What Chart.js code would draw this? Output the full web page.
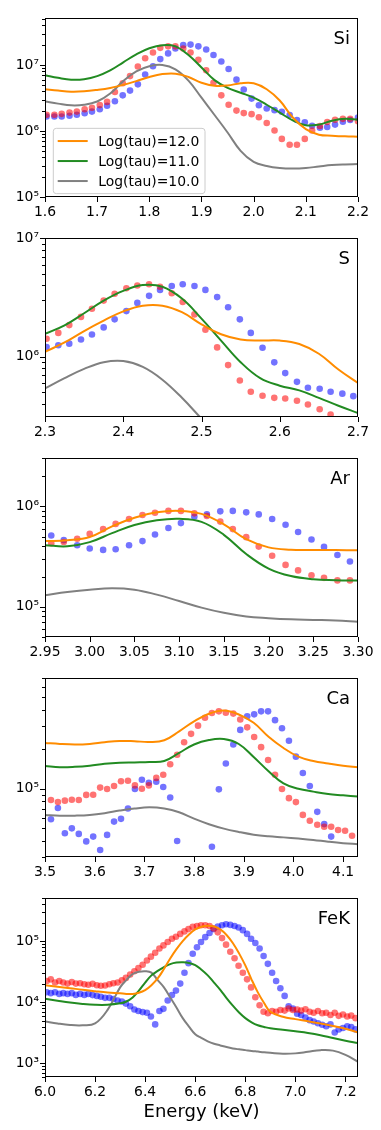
<!DOCTYPE html>
<html>
<head>
<meta charset="utf-8">
<script src="https://cdn.jsdelivr.net/npm/chart.js@4.4.0/dist/chart.umd.min.js"></script>
<style>
  html, body { margin: 0; padding: 0; background: #fff; }
  body { width: 381px; height: 1130px; position: relative; overflow: hidden; }
  .panel { position: absolute; left: 0; width: 381px; }
</style>
</head>
<body>
<div class="panel" style="top:4px"><canvas id="si" width="381" height="227"></canvas></div>
<div class="panel" style="top:224px"><canvas id="s" width="381" height="227"></canvas></div>
<div class="panel" style="top:444px"><canvas id="ar" width="381" height="227"></canvas></div>
<div class="panel" style="top:664px"><canvas id="ca" width="381" height="227"></canvas></div>
<div class="panel" style="top:884px"><canvas id="fe" width="381" height="239"></canvas></div>
<script>
// ---- Si ----
const siBins = [1.603, 1.618, 1.632, 1.647, 1.661, 1.676, 1.690, 1.705, 1.719, 1.734, 1.749, 1.763, 1.778, 1.792,
  1.807, 1.821, 1.836, 1.850, 1.865, 1.879, 1.894, 1.909, 1.923, 1.938, 1.952, 1.967, 1.981, 1.996, 2.010, 2.025,
  2.040, 2.054, 2.069, 2.083, 2.098, 2.112, 2.127, 2.141, 2.156, 2.171, 2.185, 2.200];
const siRed = [1.76e6, 1.76e6, 1.82e6, 1.9e6, 1.97e6, 2.14e6, 2.25e6, 2.47e6, 2.76e6, 3.9e6, 5.3e6, 6.8e6, 9.5e6, 1.27e7,
  1.55e7, 1.82e7, 1.92e7, 1.92e7, 1.78e7, 1.55e7, 1.2e7, 8.35e6, 5.4e6, 3.47e6, 2.5e6, 2.04e6, 1.87e6, 1.8e6, 1.62e6, 1.32e6,
  1.02e6, 7.6e5, 6.2e5, 6.2e5, 7.6e5, 1.02e6, 1.19e6, 1.37e6, 1.48e6, 1.53e6, 1.53e6, 1.4e6];
const siBlue = [1.66e6, 1.66e6, 1.66e6, 1.7e6, 1.76e6, 1.86e6, 1.97e6, 2.14e6, 2.41e6, 2.83e6, 3.47e6, 4.1e6, 5.1e6, 7.2e6,
  9.6e6, 1.23e7, 1.5e7, 1.78e7, 2.0e7, 2.04e7, 1.92e7, 1.72e7, 1.42e7, 1.13e7, 8.7e6, 6.0e6, 4.25e6, 3.1e6, 2.46e6, 2.19e6,
  2.07e6, 1.96e6, 1.75e6, 1.47e6, 1.36e6, 1.2e6, 1.12e6, 1.15e6, 1.25e6, 1.38e6, 1.47e6, 1.6e6];
const siLineX = [1.6, 1.625, 1.65, 1.675, 1.7, 1.725, 1.75, 1.775, 1.8, 1.825, 1.85, 1.875, 1.9, 1.925, 1.95, 1.975,
  2.0, 2.025, 2.05, 2.075, 2.1, 2.125, 2.15, 2.175, 2.2];
const siOrange = [4.3e6, 4.1e6, 3.95e6, 4.0e6, 4.2e6, 4.5e6, 5.0e6, 5.7e6, 6.6e6, 7.3e6, 7.4e6, 6.6e6, 5.4e6, 4.85e6,
  4.9e6, 5.3e6, 5.3e6, 4.3e6, 2.9e6, 1.6e6, 1.07e6, 8.8e5, 8.5e5, 8.3e5, 8.2e5];
const siGreen = [7.0e6, 6.4e6, 6.0e6, 6.1e6, 6.8e6, 8.3e6, 1.1e7, 1.45e7, 1.8e7, 2.0e7, 1.92e7, 1.42e7, 9.2e6, 5.9e6,
  4.5e6, 3.8e6, 3.2e6, 2.5e6, 1.9e6, 1.45e6, 1.22e6, 1.25e6, 1.43e6, 1.53e6, 1.48e6];
const siGray = [2.8e6, 2.6e6, 2.45e6, 2.5e6, 2.8e6, 3.7e6, 5.7e6, 8.0e6, 9.6e6, 1.0e7, 8.6e6, 5.8e6, 3.2e6, 1.75e6,
  9.5e5, 5.0e5, 3.4e5, 2.95e5, 2.75e5, 2.7e5, 2.75e5, 2.9e5, 3.05e5, 3.12e5, 3.15e5];
const siTicks = [1.6, 1.7, 1.8, 1.9, 2.0, 2.1, 2.2];
const siYTicks = [1e5, 1e6, 1e7];

// ---- S ----
const sBins = [2.302, 2.317, 2.331, 2.346, 2.360, 2.375, 2.389, 2.404, 2.418, 2.433, 2.447, 2.462, 2.476, 2.491,
  2.505, 2.520, 2.534, 2.549, 2.563, 2.578, 2.593, 2.607, 2.622, 2.636, 2.651, 2.665, 2.680, 2.694];
const sRed = [1.42e6, 1.59e6, 1.85e6, 2.17e6, 2.54e6, 2.98e6, 3.4e6, 3.79e6, 4.0e6, 4.09e6, 3.9e6, 3.44e6, 2.9e6, 2.28e6,
  1.69e6, 1.2e6, 8.5e5, 6.3e5, 5.07e5, 4.68e5, 4.5e5, 4.44e5, 4.25e5, 3.95e5, 3.6e5, 3.25e5, 2.9e5, 2.6e5];
const sBlue = [1.21e6, 1.25e6, 1.29e6, 1.4e6, 1.54e6, 1.77e6, 2.07e6, 2.43e6, 2.85e6, 3.27e6, 3.67e6, 3.96e6, 4.09e6, 3.96e6,
  3.67e6, 3.19e6, 2.62e6, 2.07e6, 1.59e6, 1.19e6, 8.97e5, 7.28e5, 6.14e5, 5.47e5, 5.37e5, 5.07e5, 4.88e5, 4.65e5];
const sLineX = [2.3, 2.325, 2.35, 2.375, 2.4, 2.425, 2.45, 2.475, 2.5, 2.525, 2.55, 2.575, 2.6, 2.625, 2.65, 2.675, 2.7];
const sOrange = [1.1e6, 1.32e6, 1.65e6, 2.02e6, 2.42e6, 2.7e6, 2.7e6, 2.38e6, 1.88e6, 1.55e6, 1.4e6, 1.37e6, 1.37e6,
  1.28e6, 1.06e6, 7.8e5, 6.0e5];
const sGreen = [1.56e6, 1.84e6, 2.33e6, 2.98e6, 3.6e6, 4.03e6, 3.9e6, 3.1e6, 2.1e6, 1.37e6, 9.0e5, 6.6e5, 5.7e5,
  5.2e5, 4.5e5, 3.86e5, 3.35e5];
const sGray = [5.4e5, 6.6e5, 7.9e5, 9.0e5, 9.2e5, 8.2e5, 6.4e5, 4.5e5, 3.0e5, 2.0e5, null, null, null, null, null, null, null];
const sTicks = [2.3, 2.4, 2.5, 2.6, 2.7];
const sYTicks = [1e6, 1e7];

// ---- Ar ----
const arBins = [2.957, 2.971, 2.986, 3.000, 3.015, 3.029, 3.044, 3.059, 3.073, 3.088, 3.102, 3.117, 3.131, 3.146,
  3.160, 3.175, 3.189, 3.204, 3.219, 3.233, 3.248, 3.262, 3.277, 3.291];
const arRed = [4.28e5, 4.41e5, 4.75e5, 5.31e5, 5.93e5, 6.68e5, 7.48e5, 8.18e5, 8.62e5, 9.0e5, 9.0e5, 8.5e5, 8.0e5, 7.04e5,
  5.93e5, 4.93e5, 3.97e5, 3.22e5, 2.61e5, 2.3e5, 2.06e5, 1.94e5, 1.83e5, 1.83e5];
const arBlue = [5.12e5, 4.6e5, 4.09e5, 3.8e5, 3.68e5, 3.74e5, 4.09e5, 4.5e5, 5.23e5, 6.07e5, 6.8e5, 7.88e5, 8.3e5, 8.9e5,
  9.0e5, 8.7e5, 8.3e5, 7.48e5, 6.55e5, 5.55e5, 4.67e5, 3.94e5, 3.27e5, 2.82e5];
const arLineX = [2.95, 2.975, 3.0, 3.025, 3.05, 3.075, 3.1, 3.125, 3.15, 3.175, 3.2, 3.225, 3.25, 3.275, 3.3];
const arOrange = [4.5e5, 4.6e5, 4.95e5, 6.3e5, 7.7e5, 8.7e5, 9.0e5, 8.4e5, 6.6e5, 4.7e5, 3.9e5, 3.7e5, 3.68e5, 3.67e5, 3.65e5];
const arGreen = [4.1e5, 4.0e5, 4.4e5, 5.4e5, 6.5e5, 7.25e5, 7.5e5, 7.0e5, 5.2e5, 3.35e5, 2.4e5, 2.02e5, 1.88e5, 1.84e5, 1.82e5];
const arGray = [1.3e5, 1.4e5, 1.48e5, 1.53e5, 1.48e5, 1.32e5, 1.14e5, 9.8e4, 8.7e4, 8.0e4, 7.7e4, 7.5e4, 7.4e4, 7.3e4, 7.1e4];
const arTicks = [2.95, 3.0, 3.05, 3.1, 3.15, 3.2, 3.25, 3.3];
const arYTicks = [1e5, 1e6];

// ---- Ca ----
const caBins = [3.512, 3.526, 3.540, 3.554, 3.568, 3.583, 3.597, 3.611, 3.625, 3.639, 3.653, 3.667, 3.681, 3.695,
  3.709, 3.724, 3.738, 3.752, 3.766, 3.780, 3.794, 3.808, 3.822, 3.836, 3.850, 3.864, 3.879, 3.893, 3.907, 3.921,
  3.935, 3.949, 3.963, 3.977, 3.991, 4.005, 4.019, 4.033, 4.048, 4.062, 4.076, 4.090, 4.104, 4.118];
const caRed = [8.2e4, 7.9e4, 8.1e4, 8.23e4, 8.2e4, 8.97e4, 9.0e4, 1.02e5, 9.95e4, 1.05e5, 1.14e5, 1.15e5, 1.06e5, 1.0e5,
  1.06e5, 1.21e5, 1.28e5, 1.54e5, 1.82e5, 2.27e5, 2.63e5, 3.04e5, 3.49e5, 3.8e5, 3.91e5, 3.82e5, 3.76e5, 3.39e5, 2.95e5, 2.49e5,
  2.08e5, 1.66e5, 1.28e5, 9.95e4, 8.47e4, 7.9e4, 6.3e4, 5.68e4, 5.3e4, 5.12e4, 5.12e4, 4.83e4, 4.77e4, 4.36e4];
const caBlue = [5.84e4, 7.12e4, 4.56e4, 4.97e4, 4.51e4, 3.95e4, 4.3e4, 3.39e4, 4.43e4, 5.6e4, 5.88e4, 7.05e4, 9.95e4, 1.17e5,
  1.11e5, 1.13e5, 1.03e5, 8.57e4, 3.98e4, null, null, null, null, 3.59e4, 9.89e4, 1.56e5, 2.18e5, 2.82e5, 3.59e5, 3.71e5,
  3.91e5, 3.91e5, 3.35e5, 2.9e5, 2.33e5, 1.76e5, 1.32e5, 1.05e5, 6.65e4, 5.36e4, 4.3e4, null, null, null];
const caLineX = [3.5, 3.53, 3.56, 3.59, 3.62, 3.65, 3.68, 3.71, 3.74, 3.77, 3.8, 3.83, 3.86, 3.89, 3.92, 3.95,
  3.98, 4.01, 4.04, 4.07, 4.1, 4.13];
const caOrange = [2.24e5, 2.2e5, 2.18e5, 2.2e5, 2.27e5, 2.32e5, 2.31e5, 2.28e5, 2.35e5, 2.75e5, 3.28e5, 3.75e5, 3.97e5,
  3.7e5, 3.2e5, 2.5e5, 2.05e5, 1.76e5, 1.63e5, 1.56e5, 1.5e5, 1.46e5];
const caGreen = [1.49e5, 1.46e5, 1.47e5, 1.5e5, 1.55e5, 1.58e5, 1.59e5, 1.6e5, 1.63e5, 1.88e5, 2.18e5, 2.36e5, 2.4e5,
  2.2e5, 1.75e5, 1.36e5, 1.1e5, 1.0e5, 9.5e4, 9.1e4, 8.9e4, 8.7e4];
const caGray = [6.3e4, 6.2e4, 6.22e4, 6.3e4, 6.5e4, 6.8e4, 7.05e4, 7.2e4, 7.05e4, 6.6e4, 5.9e4, 5.35e4, 4.95e4,
  4.67e4, 4.45e4, 4.32e4, 4.24e4, 4.15e4, 4.05e4, 3.93e4, 3.83e4, 3.76e4];
const caTicks = [3.5, 3.6, 3.7, 3.8, 3.9, 4.0, 4.1];
const caYTicks = [1e5];

// ---- FeK ----
const feBins = [6.007, 6.023, 6.040, 6.057, 6.073, 6.090, 6.107, 6.123, 6.140, 6.157, 6.173, 6.190, 6.207, 6.223, 6.240,
  6.257, 6.273, 6.290, 6.307, 6.323, 6.340, 6.357, 6.373, 6.390, 6.407, 6.423, 6.440, 6.457, 6.473, 6.490, 6.507, 6.523,
  6.540, 6.557, 6.573, 6.590, 6.607, 6.623, 6.640, 6.657, 6.673, 6.690, 6.707, 6.723, 6.740, 6.757, 6.773, 6.790, 6.807,
  6.823, 6.840, 6.857, 6.873, 6.890, 6.907, 6.923, 6.940, 6.957, 6.973, 6.990, 7.007, 7.023, 7.040, 7.057, 7.073, 7.090,
  7.107, 7.123, 7.140, 7.157, 7.173, 7.190, 7.207, 7.223, 7.240];
const feRed = [2.23e4, 2.37e4, 2.1e4, 2.23e4, 2.1e4, 2.02e4, 2.15e4, 2.02e4, 2.05e4, 1.97e4,
  1.93e4, 2.0e4, 1.9e4, 1.86e4, 1.88e4, 1.97e4, 2.05e4, 2.1e4, 2.28e4, 2.5e4,
  2.85e4, 3.22e4, 3.63e4, 4.1e4, 4.82e4, 5.57e4, 6.46e4, 7.55e4, 8.5e4, 9.64e4,
  1.09e5, 1.18e5, 1.31e5, 1.44e5, 1.57e5, 1.71e5, 1.77e5, 1.82e5, 1.82e5, 1.77e5,
  1.61e5, 1.39e5, 1.12e5, 8.74e4, 6.68e4, 5.24e4, 3.96e4, 3.03e4, 2.37e4, 1.75e4,
  1.21e4, 8.96e3, 7.0e3, 6.6e3, 7.2e3, 7.0e3, 7.46e3, 7.3e3, 7.9e3, 7.46e3,
  7.6e3, 7.3e3, 7.7e3, 7.0e3, 6.75e3, 7.2e3, 6.6e3, 6.75e3, 6.2e3, 6.75e3,
  6.0e3, 6.3e3, 5.85e3, 6.05e3, 5.5e3];
const feBlue = [1.46e4, 1.41e4, 1.46e4, 1.37e4, 1.41e4, 1.37e4, 1.41e4, 1.32e4, 1.37e4, 1.32e4,
  1.37e4, 1.31e4, 1.27e4, 1.23e4, 1.18e4, 1.18e4, 1.13e4, 1.07e4, 1.03e4, 9.5e3,
  8.6e3, 7.6e3, 7.2e3, 6.9e3, 6.75e3, 5.85e3, 4.35e3, 7.2e3, 7.8e3, 1.07e4,
  1.31e4, 1.55e4, 2.02e4, 3.03e4, 4.36e4, 6.2e4, 7.95e4, 9.64e4, 1.16e5, 1.36e5,
  1.57e5, 1.73e5, 1.82e5, 1.88e5, 1.84e5, 1.77e5, 1.67e5, 1.51e5, 1.31e5, 1.09e5,
  9.3e4, 7.55e4, 5.7e4, 4.25e4, 3.03e4, 2.23e4, 1.69e4, 1.27e4, 8.6e3, 7.9e3,
  6.5e3, 6.2e3, 5.6e3, 5.1e3, 4.85e3, 4.55e3, 4.3e3, 4.05e3, 4.35e3, 3.2e3,
  3.6e3, 3.8e3, 4.05e3, 3.95e3, 3.6e3];
const feLineX = [6.0, 6.05, 6.1, 6.15, 6.2, 6.25, 6.3, 6.325, 6.35, 6.375, 6.4, 6.425, 6.45, 6.475, 6.5, 6.525, 6.55,
  6.575, 6.6, 6.625, 6.65, 6.675, 6.7, 6.725, 6.75, 6.775, 6.8, 6.825, 6.85, 6.875, 6.9, 6.95, 7.0, 7.05, 7.1, 7.15, 7.2, 7.25];
const feOrange = [1.9e4, 1.8e4, 1.7e4, 1.6e4, 1.52e4, 1.45e4, 1.4e4, 1.37e4, 1.37e4, 1.43e4, 1.58e4, 1.9e4, 2.45e4,
  3.5e4, 5.2e4, 7.4e4, 1.0e5, 1.28e5, 1.55e5, 1.72e5, 1.78e5, 1.73e5, 1.55e5, 1.26e5, 9.3e4, 6.3e4, 4.0e4, 2.35e4,
  1.45e4, 9.7e3, 7.0e3, 5.8e3, 5.3e3, 4.9e3, 4.5e3, 4.1e3, 3.7e3, 3.2e3];
const feGreen = [1.14e4, 1.06e4, 9.9e3, 9.4e3, 9.1e3, 9.1e3, 9.6e3, 1.03e4, 1.2e4, 1.55e4, 2.1e4, 2.75e4, 3.25e4,
  3.75e4, 4.2e4, 4.45e4, 4.5e4, 4.4e4, 4.05e4, 3.4e4, 2.75e4, 2.1e4, 1.6e4, 1.17e4, 8.8e3, 6.8e3, 5.5e3, 4.7e3,
  4.2e3, 3.95e3, 3.75e3, 3.55e3, 3.35e3, 3.15e3, 2.9e3, 2.6e3, 2.35e3, 2.15e3];
const feGray = [4.86e3, 4.5e3, 4.25e3, 4.2e3, 4.5e3, 7.5e3, 1.75e4, 2.3e4, 2.9e4, 3.15e4, 3.22e4, 3.05e4, 2.3e4,
  1.75e4, 1.2e4, 8.2e3, 5.5e3, 4.0e3, 3.0e3, 2.6e3, 2.3e3, 2.1e3, 1.97e3, 1.85e3, 1.76e3, 1.7e3, 1.65e3, 1.6e3,
  1.56e3, 1.52e3, 1.49e3, 1.44e3, 1.46e3, 1.55e3, 1.65e3, 1.62e3, 1.38e3, 1.06e3];
const feTicks = [6.0, 6.2, 6.4, 6.6, 6.8, 7.0, 7.2];
const feYTicks = [1e3, 1e4, 1e5];

const modelLabels = ['Log(tau)=12.0', 'Log(tau)=11.0', 'Log(tau)=10.0'];
const modelColors = ['#ff8c00', '#228b22', '#808080'];
const redDot = 'rgba(255, 0, 0, 0.55)';
const blueDot = 'rgba(0, 0, 255, 0.55)';

Chart.defaults.font.family = "'DejaVu Sans', sans-serif";
Chart.defaults.font.size = 13.9;
Chart.defaults.color = '#000';

const supDigits = { '0': '\u2070', '1': '\u00b9', '2': '\u00b2', '3': '\u00b3', '4': '\u2074',
  '5': '\u2075', '6': '\u2076', '7': '\u2077', '8': '\u2078', '9': '\u2079' };
function powLabel(v) {
  const e = Math.round(Math.log10(v));
  return '10' + String(e).split('').map(c => supDigits[c]).join('');
}

function toPoints(xs, ys) {
  return xs.map((x, i) => ({ x: x, y: ys[i] }));
}

// frame, minor ticks, panel name and legend
const framePlugin = {
  id: 'frame',
  afterDatasetsDraw(chart, args, opts) {
    const { ctx, chartArea: a, scales } = chart;
    const L = Math.round(a.left), R = Math.round(a.right), T = Math.round(a.top), B = Math.round(a.bottom);
    ctx.save();
    ctx.strokeStyle = '#000';
    ctx.lineWidth = 1;
    ctx.strokeRect(L + 0.5, T + 0.5, R - L - 1, B - T - 1);

    // y ticks (log, with minors)
    const y = scales.y;
    ctx.beginPath();
    for (let d = Math.floor(Math.log10(y.min)); d <= Math.ceil(Math.log10(y.max)); d++) {
      for (let m = 1; m <= 9; m++) {
        const v = m * Math.pow(10, d);
        if (v < y.min * 0.9999 || v > y.max * 1.0001) continue;
        const py = Math.round(y.getPixelForValue(v)) + 0.5;
        const len = m === 1 ? 5 : 3;
        ctx.moveTo(L - len, py);
        ctx.lineTo(L + 0.5, py);
      }
    }
    // x ticks
    scales.x.ticks.forEach(t => {
      const px = Math.round(scales.x.getPixelForValue(t.value)) + 0.5;
      ctx.moveTo(px, B);
      ctx.lineTo(px, B + 5);
    });
    ctx.stroke();

    // panel name
    ctx.fillStyle = '#000';
    ctx.font = "18px 'DejaVu Sans', sans-serif";
    ctx.textAlign = 'right';
    ctx.textBaseline = 'alphabetic';
    ctx.fillText(opts.name, a.right - 8, a.top + 26);

    if (opts.legend) {
      const lx = a.left + 8.3, ly = a.top + 110, lw = 151.7, lh = 65.3, r = 3;
      ctx.beginPath();
      ctx.moveTo(lx + r, ly);
      ctx.arcTo(lx + lw, ly, lx + lw, ly + lh, r);
      ctx.arcTo(lx + lw, ly + lh, lx, ly + lh, r);
      ctx.arcTo(lx, ly + lh, lx, ly, r);
      ctx.arcTo(lx, ly, lx + lw, ly, r);
      ctx.closePath();
      ctx.fillStyle = 'rgba(255,255,255,0.8)';
      ctx.fill();
      ctx.strokeStyle = '#cccccc';
      ctx.lineWidth = 1;
      ctx.stroke();
      ctx.font = "13.9px 'DejaVu Sans', sans-serif";
      ctx.textAlign = 'left';
      ctx.textBaseline = 'middle';
      modelLabels.forEach((lab, i) => {
        const ry = ly + 12.7 + 20 * i;
        ctx.beginPath();
        ctx.strokeStyle = modelColors[i];
        ctx.lineWidth = 2;
        ctx.moveTo(lx + 4.4, ry);
        ctx.lineTo(lx + 34.4, ry);
        ctx.stroke();
        ctx.fillStyle = '#000';
        ctx.fillText(lab, lx + 45, ry + 1);
      });
    }
    ctx.restore();
  }
};

const panels = [
  { id: 'si', name: 'Si', xMin: 1.6, xMax: 2.2, dec: 1, yMin: 1e5, yMax: 5.1e7, xTicks: siTicks, yTicks: siYTicks,
    bins: siBins, red: siRed, blue: siBlue, lineX: siLineX, lines: [siOrange, siGreen, siGray], legend: true },
  { id: 's', name: 'S', xMin: 2.3, xMax: 2.7, dec: 1, yMin: 3.1e5, yMax: 1e7, xTicks: sTicks, yTicks: sYTicks,
    bins: sBins, red: sRed, blue: sBlue, lineX: sLineX, lines: [sOrange, sGreen, sGray] },
  { id: 'ar', name: 'Ar', xMin: 2.95, xMax: 3.3, dec: 2, yMin: 5e4, yMax: 3e6, xTicks: arTicks, yTicks: arYTicks,
    bins: arBins, red: arRed, blue: arBlue, lineX: arLineX, lines: [arOrange, arGreen, arGray] },
  { id: 'ca', name: 'Ca', xMin: 3.5, xMax: 4.13, dec: 1, yMin: 3e4, yMax: 7e5, xTicks: caTicks, yTicks: caYTicks,
    bins: caBins, red: caRed, blue: caBlue, lineX: caLineX, lines: [caOrange, caGreen, caGray] },
  { id: 'fe', name: 'FeK', xMin: 6.0, xMax: 7.25, dec: 1, yMin: 600, yMax: 5e5, xTicks: feTicks, yTicks: feYTicks,
    bins: feBins, red: feRed, blue: feBlue, lineX: feLineX, lines: [feOrange, feGreen, feGray], xTitle: 'Energy (keV)' }
];

panels.forEach(p => {
  const datasets = p.lines.map((vals, i) => ({
    label: modelLabels[i],
    data: toPoints(p.lineX, vals),
    showLine: true,
    borderColor: modelColors[i],
    borderWidth: 2,
    pointRadius: 0,
    tension: 0.4,
    clip: 0
  }));
  datasets.push({ label: 'red', data: toPoints(p.bins, p.red), pointRadius: 3.3,
    pointBackgroundColor: redDot, pointBorderWidth: 0, showLine: false, clip: 0 });
  datasets.push({ label: 'blue', data: toPoints(p.bins, p.blue), pointRadius: 3.3,
    pointBackgroundColor: blueDot, pointBorderWidth: 0, showLine: false, clip: 0 });

  const xh = p.xTitle ? 46 : 34;
  new Chart(document.getElementById(p.id), {
    type: 'scatter',
    data: { datasets: datasets },
    options: {
      responsive: false,
      animation: false,
      devicePixelRatio: 1,
      events: [],
      layout: { padding: { top: 10, right: 23, left: 0, bottom: 0 } },
      plugins: {
        legend: { display: false },
        tooltip: { enabled: false },
        frame: { name: p.name, legend: !!p.legend }
      },
      scales: {
        x: {
          type: 'linear',
          min: p.xMin,
          max: p.xMax,
          afterBuildTicks: s => { s.ticks = p.xTicks.map(v => ({ value: v })); },
          afterFit: s => { s.height = xh; },
          grid: { display: false, drawTicks: false },
          border: { display: false },
          ticks: { padding: 7, maxRotation: 0, autoSkip: false, color: '#000',
            callback: v => Number(v).toFixed(p.dec) },
          title: p.xTitle ? { display: true, text: p.xTitle, color: '#000', font: { size: 18 },
            padding: { top: 0, bottom: 0 } } : { display: false }
        },
        y: {
          type: 'logarithmic',
          min: p.yMin,
          max: p.yMax,
          afterBuildTicks: s => { s.ticks = p.yTicks.map(v => ({ value: v, major: true })); },
          afterFit: s => { s.width = 45; },
          grid: { display: false, drawTicks: false },
          border: { display: false },
          ticks: { padding: 6, autoSkip: false, color: '#000', callback: v => powLabel(v) }
        }
      }
    },
    plugins: [framePlugin]
  });
});
</script>
</body>
</html>
